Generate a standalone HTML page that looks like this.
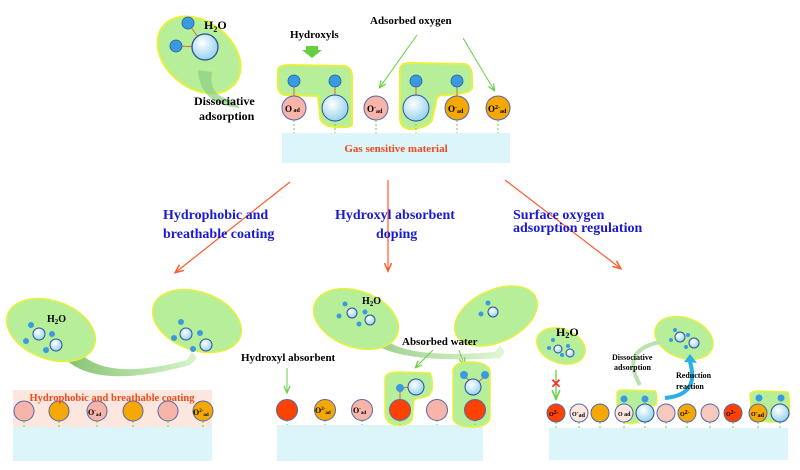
<!DOCTYPE html>
<html><head><meta charset="utf-8"><style>
body{margin:0;background:#fff}
svg{display:block}
text{font-family:"Liberation Serif",serif;font-weight:bold}
</style></head><body>
<svg width="800" height="470" viewBox="0 0 800 470" xmlns="http://www.w3.org/2000/svg">
<defs>
<radialGradient id="bg" cx="0.4" cy="0.35" r="0.7"><stop offset="0" stop-color="#ffffff"/><stop offset="1" stop-color="#8fd0ee"/></radialGradient>
<linearGradient id="ar" x1="0" x2="1"><stop offset="0" stop-color="#7fbf6a"/><stop offset="1" stop-color="#d8f5cc"/></linearGradient>
<marker id="ra" markerWidth="8" markerHeight="8" refX="6" refY="4" orient="auto"><path d="M0,1 L7,4 L0,7" fill="none" stroke="#ff5a2a" stroke-width="1.2"/></marker>
<marker id="ga" markerWidth="8" markerHeight="8" refX="6" refY="4" orient="auto"><path d="M0,1 L7,4 L0,7" fill="none" stroke="#66d040" stroke-width="1.2"/></marker>
</defs>

<!-- TOP -->
<rect x="282" y="133" width="228" height="30" fill="#dcf5fa"/>
<text x="396" y="152" font-size="11" fill="#f04a1a" text-anchor="middle">Gas sensitive material</text>
<ellipse cx="199" cy="55" rx="46" ry="33" transform="rotate(38 199 55)" fill="#b7ee9a" stroke="#e8f03a" stroke-width="2"/>
<path d="M198,70 Q200,105 240,108 L232,100 Q208,96 212,72Z" fill="#8ccf80" opacity="0.7"/>
<line x1="188" y1="23" x2="205" y2="47" stroke="#d06a40"/><line x1="176" y1="46" x2="205" y2="47" stroke="#d06a40"/>
<circle cx="205" cy="47" r="13" fill="url(#bg)" stroke="#2b4fa0" stroke-width="1.3"/>
<circle cx="188" cy="23" r="6" fill="#3a9ae0" stroke="#2060a0" stroke-width="0.8"/>
<circle cx="176" cy="46" r="6" fill="#3a9ae0" stroke="#2060a0" stroke-width="0.8"/>
<text x="204" y="29" font-size="12">H<tspan font-size="8" dy="3">2</tspan><tspan dy="-3">O</tspan></text>
<text x="194" y="105" font-size="12">Dissociative</text>
<text x="199" y="120" font-size="12">adsorption</text>
<text x="290" y="38" font-size="11">Hydroxyls</text>
<path d="M306,46 h12 v4 h4 l-10,8 l-10,-8 h4z" fill="#66d040"/>
<text x="370" y="24" font-size="11">Adsorbed oxygen</text>
<line x1="417" y1="35" x2="380" y2="87" stroke="#66d040" marker-end="url(#ga)"/>
<line x1="463" y1="38" x2="494" y2="90" stroke="#66d040" marker-end="url(#ga)"/>
<path d="M278,70 Q278,65 290,65 L345,66 Q353,68 352,80 L352,125 Q350,128 335,127 Q320,126 320,115 L318,96 L285,95 Q278,94 278,85Z" fill="#b7ee9a" stroke="#e8f03a" stroke-width="2"/>
<path d="M400,70 Q400,63 410,63 L465,64 Q472,66 472,78 L472,88 Q470,95 440,95 L437,98 L432,120 Q428,128 410,129 Q400,128 400,118Z" fill="#b7ee9a" stroke="#e8f03a" stroke-width="2"/>
<g stroke="#66d040" stroke-dasharray="2,2"><line x1="294" y1="120" x2="294" y2="133"/><line x1="335" y1="120" x2="335" y2="133"/><line x1="376" y1="120" x2="376" y2="133"/><line x1="416" y1="120" x2="416" y2="133"/><line x1="457" y1="120" x2="457" y2="133"/><line x1="498" y1="120" x2="498" y2="133"/></g>
<g stroke="#d06a40"><line x1="294" y1="82" x2="294" y2="96"/><line x1="335" y1="82" x2="335" y2="96"/><line x1="416" y1="82" x2="416" y2="96"/><line x1="457" y1="82" x2="457" y2="96"/></g>
<g fill="#3a9ae0" stroke="#2060a0" stroke-width="0.8"><circle cx="294" cy="81" r="6"/><circle cx="335" cy="81" r="6"/><circle cx="416" cy="81" r="6"/><circle cx="457" cy="81" r="6"/></g>
<g stroke="#5566aa" stroke-width="1"><circle cx="294" cy="108" r="12" fill="#f7b4a8"/><circle cx="335" cy="108" r="13" fill="url(#bg)" stroke="#2b4fa0"/><circle cx="376" cy="108" r="12" fill="#f7b4a8"/><circle cx="416" cy="108" r="13" fill="url(#bg)" stroke="#2b4fa0"/><circle cx="457" cy="108" r="12" fill="#f5a900"/><circle cx="498" cy="108" r="12" fill="#f5a900"/></g>
<g font-size="9"><text x="285" y="112">O<tspan font-size="6"> ad</tspan></text><text x="367" y="112">O<tspan font-size="6" dy="-3">-</tspan><tspan font-size="6" dy="4">ad</tspan></text><text x="448" y="112">O<tspan font-size="6" dy="-3">-</tspan><tspan font-size="6" dy="4">ad</tspan></text><text x="488" y="112">O<tspan font-size="6" dy="-3">2-</tspan><tspan font-size="6" dy="4">ad</tspan></text></g>

<!-- red arrows -->
<line x1="290" y1="182" x2="176" y2="272" stroke="#ff5a2a" stroke-width="1.2" marker-end="url(#ra)"/>
<line x1="388" y1="180" x2="388" y2="270" stroke="#ff5a2a" stroke-width="1.2" marker-end="url(#ra)"/>
<line x1="505" y1="180" x2="620" y2="268" stroke="#ff5a2a" stroke-width="1.2" marker-end="url(#ra)"/>
<g font-size="14" fill="#1a1ad0"><text x="163" y="219">Hydrophobic and</text><text x="163" y="238">breathable coating</text>
<text x="335" y="219">Hydroxyl absorbent</text><text x="376" y="238">doping</text>
<text x="513" y="219">Surface oxygen</text><text x="513" y="232">adsorption regulation</text></g>

<!-- BOTTOM LEFT -->
<rect x="13" y="390" width="199" height="37" fill="#fde6de"/>
<rect x="13" y="427" width="199" height="34" fill="#dcf5fa"/>
<path d="M55,345 Q80,395 190,365 L197,358 L192,352 L187,360 Q95,385 72,342Z" fill="url(#ar)"/>
<ellipse cx="51" cy="330" rx="46" ry="29" transform="rotate(20 51 330)" fill="#b7ee9a" stroke="#e8f03a" stroke-width="1.5"/>
<ellipse cx="197" cy="321" rx="46" ry="29" transform="rotate(20 197 321)" fill="#b7ee9a" stroke="#e8f03a" stroke-width="1.5"/>
<text x="47" y="322" font-size="10">H<tspan font-size="7" dy="2">2</tspan><tspan dy="-2">O</tspan></text>
<g fill="url(#bg)" stroke="#2b4fa0"><circle cx="39" cy="334" r="6"/><circle cx="56" cy="345" r="6"/><circle cx="186" cy="334" r="6"/><circle cx="206" cy="345" r="6"/></g>
<g fill="#3a9ae0"><circle cx="31" cy="325" r="3"/><circle cx="26" cy="341" r="3"/><circle cx="52" cy="334" r="3"/><circle cx="46" cy="350" r="3"/><circle cx="181" cy="322" r="3"/><circle cx="174" cy="338" r="3"/><circle cx="200" cy="333" r="3"/><circle cx="193" cy="349" r="3"/></g>
<g stroke="#66d040" stroke-dasharray="2,2"><line x1="24" y1="421" x2="24" y2="427"/><line x1="59" y1="421" x2="59" y2="427"/><line x1="97" y1="421" x2="97" y2="427"/><line x1="133" y1="421" x2="133" y2="427"/><line x1="168" y1="421" x2="168" y2="427"/><line x1="203" y1="421" x2="203" y2="427"/></g>
<g stroke="#5566aa"><circle cx="24" cy="411" r="10" fill="#f7b4a8"/><circle cx="59" cy="411" r="10" fill="#f5a900"/><circle cx="97" cy="411" r="10" fill="#f7b4a8"/><circle cx="133" cy="411" r="10" fill="#f5a900"/><circle cx="168" cy="411" r="10" fill="#f7b4a8"/><circle cx="203" cy="411" r="10" fill="#f5a900"/></g>
<text x="112" y="401" font-size="10.5" fill="#f04a1a" text-anchor="middle">Hydrophobic and breathable coating</text>
<g font-size="8"><text x="88" y="415">O<tspan font-size="5" dy="-3">-</tspan><tspan font-size="5" dy="4">ad</tspan></text><text x="193" y="415">O<tspan font-size="5" dy="-3">2-</tspan><tspan font-size="5" dy="4">ad</tspan></text></g>

<!-- BOTTOM MIDDLE -->
<rect x="277" y="425" width="206" height="36" fill="#dcf5fa"/>
<path d="M365,335 Q385,365 500,358 L505,352 L500,345 L495,352 Q395,360 380,333Z" fill="url(#ar)" opacity="0.8"/>
<ellipse cx="356" cy="319" rx="44" ry="28" transform="rotate(20 356 319)" fill="#b7ee9a" stroke="#e8f03a" stroke-width="1.5"/>
<ellipse cx="496" cy="316" rx="44" ry="26" transform="rotate(-25 496 316)" fill="#b7ee9a" stroke="#e8f03a" stroke-width="1.5"/>
<text x="362" y="304" font-size="10">H<tspan font-size="7" dy="2">2</tspan><tspan dy="-2">O</tspan></text>
<g fill="url(#bg)" stroke="#2b4fa0"><circle cx="352" cy="313" r="5"/><circle cx="370" cy="320" r="5"/><circle cx="493" cy="312" r="5"/></g>
<g fill="#3a9ae0"><circle cx="345" cy="304" r="2.5"/><circle cx="339" cy="316" r="2.5"/><circle cx="365" cy="312" r="2.5"/><circle cx="359" cy="324" r="2.5"/><circle cx="488" cy="303" r="2.5"/><circle cx="481" cy="314" r="2.5"/></g>
<text x="402" y="345" font-size="11">Absorbed water</text>
<line x1="433" y1="350" x2="416" y2="367" stroke="#66d040" marker-end="url(#ga)"/>
<line x1="459" y1="350" x2="464" y2="364" stroke="#66d040" marker-end="url(#ga)"/>
<text x="241" y="361" font-size="11">Hydroxyl absorbent</text>
<line x1="287" y1="368" x2="287" y2="392" stroke="#66d040" marker-end="url(#ga)"/>
<path d="M385,378 Q386,372 400,372 L430,373 Q433,378 432,390 Q430,398 418,398 L414,400 L412,420 Q408,426 395,425 Q385,423 385,412Z" fill="#b7ee9a" stroke="#e8f03a" stroke-width="1.5"/>
<path d="M453,370 Q455,362 470,362 Q489,362 490,372 L490,418 Q488,427 472,427 Q455,427 453,418Z" fill="#b7ee9a" stroke="#e8f03a" stroke-width="1.5"/>
<g stroke="#d06a40"><line x1="400" y1="388" x2="412" y2="387"/><line x1="400" y1="388" x2="400" y2="400"/><line x1="464" y1="376" x2="475" y2="385"/><line x1="485" y1="376" x2="475" y2="385"/></g>
<g fill="url(#bg)" stroke="#2b4fa0"><circle cx="416" cy="387" r="8"/><circle cx="473" cy="387" r="8"/></g>
<g fill="#3a9ae0"><circle cx="400" cy="388" r="4"/><circle cx="464" cy="375" r="4"/><circle cx="485" cy="375" r="4"/></g>
<g stroke="#66d040" stroke-dasharray="2,2"><line x1="287" y1="420" x2="287" y2="425"/><line x1="325" y1="420" x2="325" y2="425"/><line x1="362" y1="420" x2="362" y2="425"/><line x1="400" y1="420" x2="400" y2="425"/><line x1="437" y1="420" x2="437" y2="425"/><line x1="475" y1="420" x2="475" y2="425"/></g>
<g stroke="#5566aa"><circle cx="287" cy="410" r="10.5" fill="#ff4200"/><circle cx="325" cy="410" r="10.5" fill="#f5a900"/><circle cx="362" cy="410" r="10.5" fill="#f7b4a8"/><circle cx="400" cy="410" r="10.5" fill="#ff4200"/><circle cx="437" cy="410" r="10.5" fill="#f7b4a8"/><circle cx="475" cy="410" r="10.5" fill="#ff4200"/></g>
<g font-size="8"><text x="315" y="413">O<tspan font-size="5" dy="-3">2-</tspan><tspan font-size="5" dy="4">ad</tspan></text><text x="353" y="413">O<tspan font-size="5" dy="-3">-</tspan><tspan font-size="5" dy="4">ad</tspan></text></g>

<!-- BOTTOM RIGHT -->
<rect x="549" y="428" width="239" height="32" fill="#dcf5fa"/>
<ellipse cx="561" cy="346" rx="25" ry="17" transform="rotate(20 561 346)" fill="#b7ee9a" stroke="#e8f03a" stroke-width="1.5"/>
<text x="556" y="336" font-size="12">H<tspan font-size="8" dy="2">2</tspan><tspan dy="-2">O</tspan></text>
<g fill="url(#bg)" stroke="#2b4fa0"><circle cx="558" cy="349" r="4"/><circle cx="570" cy="353" r="4"/></g>
<g fill="#3a9ae0"><circle cx="553" cy="340" r="2"/><circle cx="549" cy="348" r="2"/><circle cx="568" cy="346" r="2"/><circle cx="562" cy="355" r="2"/></g>
<ellipse cx="684" cy="338" rx="30" ry="20" transform="rotate(20 684 338)" fill="#b7ee9a" stroke="#e8f03a" stroke-width="1.5"/>
<g fill="url(#bg)" stroke="#2b4fa0"><circle cx="680" cy="337" r="5"/><circle cx="694" cy="343" r="5"/></g>
<g fill="#3a9ae0"><circle cx="675" cy="330" r="2"/><circle cx="671" cy="340" r="2"/><circle cx="688" cy="335" r="2"/><circle cx="686" cy="347" r="2"/></g>
<line x1="556" y1="370" x2="556" y2="398" stroke="#66d040" stroke-width="1.3" marker-end="url(#ga)"/>
<text x="556" y="388" font-size="13" fill="#ff3030" text-anchor="middle" font-weight="normal">✕</text>
<path d="M640,385 Q620,350 660,342" fill="none" stroke="#b9e2b0" stroke-width="4"/>
<path d="M665,398 Q700,395 690,362" fill="none" stroke="#2ab0e8" stroke-width="4"/>
<path d="M684,362 L690,354 L697,363Z" fill="#2ab0e8"/>
<text x="612" y="360" font-size="8">Dissociative</text><text x="614" y="370" font-size="8">adsorption</text>
<text x="676" y="378" font-size="8">Reduction</text><text x="676" y="389" font-size="8">reaction</text>
<path d="M617,393 Q617,390 625,390 L655,391 Q658,395 656,405 L640,406 L638,422 Q630,426 620,420 L617,410Z" fill="#b7ee9a" stroke="#e8f03a" stroke-width="1.5"/>
<path d="M750,395 Q750,391 760,391 L788,392 Q790,398 789,416 Q786,422 770,422 L752,420Z" fill="#b7ee9a" stroke="#e8f03a" stroke-width="1.5"/>
<g fill="#3a9ae0"><circle cx="624" cy="399" r="3.5"/><circle cx="645" cy="399" r="3.5"/><circle cx="759" cy="398" r="3.5"/><circle cx="781" cy="398" r="3.5"/></g>
<g stroke="#66d040" stroke-dasharray="2,2"><line x1="556" y1="422" x2="556" y2="428"/><line x1="579" y1="422" x2="579" y2="428"/><line x1="600" y1="422" x2="600" y2="428"/><line x1="624" y1="422" x2="624" y2="428"/><line x1="645" y1="422" x2="645" y2="428"/><line x1="666" y1="422" x2="666" y2="428"/><line x1="687" y1="422" x2="687" y2="428"/><line x1="710" y1="422" x2="710" y2="428"/><line x1="733" y1="422" x2="733" y2="428"/><line x1="758" y1="422" x2="758" y2="428"/><line x1="780" y1="422" x2="780" y2="428"/></g>
<g stroke="#5566aa"><circle cx="556" cy="413" r="9" fill="#ff4200"/><circle cx="579" cy="413" r="9" fill="#fde6de"/><circle cx="600" cy="413" r="9" fill="#f5a900"/><circle cx="624" cy="413" r="9" fill="#fde6de"/><circle cx="645" cy="413" r="9" fill="url(#bg)" stroke="#2b4fa0"/><circle cx="666" cy="413" r="9" fill="#f7c8bc"/><circle cx="687" cy="413" r="9" fill="#f5a900"/><circle cx="710" cy="413" r="9" fill="#f7c8bc"/><circle cx="733" cy="413" r="9" fill="#ff4200"/><circle cx="758" cy="413" r="9" fill="#f5a900"/><circle cx="780" cy="413" r="9" fill="url(#bg)" stroke="#2b4fa0"/></g>
<g font-size="6"><text x="549" y="416">O<tspan dy="-2">2-</tspan></text><text x="572" y="416">O<tspan dy="-2">-</tspan><tspan dy="3">ad</tspan></text><text x="618" y="416">O ad</text><text x="680" y="416">O<tspan dy="-2">2-</tspan></text><text x="726" y="416">O<tspan dy="-2">2-</tspan></text><text x="751" y="416">O<tspan dy="-2">-</tspan><tspan dy="3">ad</tspan></text></g>
</svg>
</body></html>
